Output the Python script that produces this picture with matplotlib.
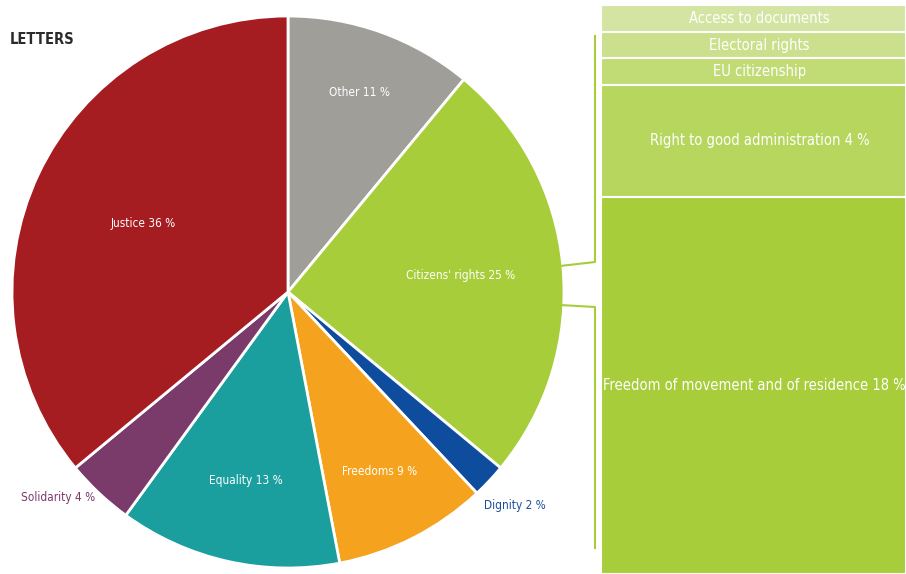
import numpy as np
import matplotlib.pyplot as plt

plt.rcParams['font.family'] = ['DejaVu Sans']
plt.rcParams['font.stretch'] = 'condensed'

# main pie, clockwise from 12 o'clock
labels = ['Other', "Citizens' rights", 'Dignity', 'Freedoms', 'Equality', 'Solidarity', 'Justice']
shares = [11, 25, 2, 9, 13, 4, 36]
colors = ['#a09e99', '#a8cd3a', '#0e4c9e', '#f5a31e', '#1a9e9e', '#7b3b6a', '#a51c21']
# radial position of each label as fraction of radius
label_r = [0.77, 0.63, 1.13, 0.73, 0.70, 1.02, 0.58]
label_ha = ['center', 'center', 'center', 'center', 'center', 'right', 'center']
label_col = ['white', 'white', '#1b4f9c', 'white', 'white', '#7b3b6a', 'white']

# breakdown of citizens' rights (bottom to top)
sub_labels = ['Freedom of movement and of residence 18 %', 'Right to good administration 4 %',
              'EU citizenship', 'Electoral rights', 'Access to documents']
sub_sizes = [66.3, 19.7, 4.6, 4.7, 4.7]  # share of bar height
sub_colors = ['#a8cd3a', '#b6d65e', '#c1db75', '#cbe08c', '#d4e5a3']

W, H = 906, 574
fig = plt.figure(figsize=(W / 100, H / 100), dpi=100)
ax = fig.add_axes([0, 0, 1, 1])

cx, cy, R = 288, H - 292, 276
ax.pie(shares, colors=colors, startangle=90, counterclock=False,
       center=(cx, cy), radius=R, frame=True,
       wedgeprops=dict(edgecolor='white', linewidth=2))
ax.set_xlim(0, W)
ax.set_ylim(0, H)
ax.set_aspect('equal')
ax.axis('off')

cum = np.cumsum([0] + shares)
for i, lab in enumerate(labels):
    mid = (cum[i] + cum[i + 1]) / 2 / 100 * 360  # clockwise from top
    a = np.deg2rad(mid)
    x = cx + label_r[i] * R * np.sin(a)
    y = cy + label_r[i] * R * np.cos(a)
    ax.text(x, y, f'{lab} {shares[i]} %', color=label_col[i], fontsize=8.5,
            ha=label_ha[i], va='center')

# stacked bar on the right
bx0, bx1 = 601, 906
btop, bbot = H - 5, 0
scale = (btop - bbot) / sum(sub_sizes)
bottom = bbot
for k, (s, lab, c) in enumerate(zip(sub_sizes, sub_labels, sub_colors)):
    h = s * scale
    ax.bar((bx0 + bx1) / 2, h, width=bx1 - bx0, bottom=bottom, color=c,
           edgecolor='white', linewidth=1.5)
    dx = 1 if k == 0 else 6
    ax.text((bx0 + bx1) / 2 + dx, bottom + h / 2, lab, color='white', fontsize=10.5,
            ha='center', va='center')
    bottom += h

# connector lines
lc = '#a8cd3a'
ax.plot([560, 595, 595], [H - 266, H - 262, H - 36], color=lc, lw=1.5)
ax.plot([560, 595, 595], [H - 305, H - 307, H - 548], color=lc, lw=1.5)

ax.text(10, H - 39, 'LETTERS', fontsize=10.5, fontweight='bold', color='#2b2b2b',
        ha='left', va='center')

fig.savefig('out.png', dpi=100)
